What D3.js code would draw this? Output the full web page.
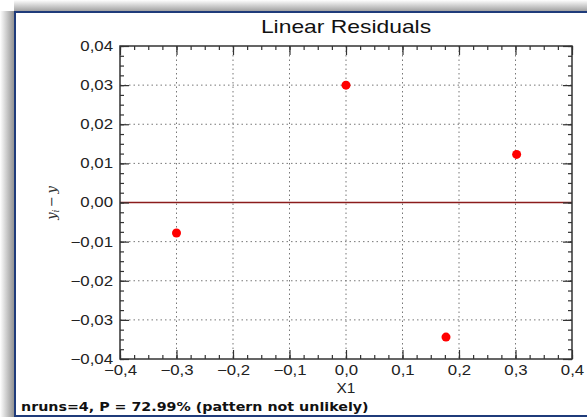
<html>
<head>
<meta charset="utf-8"/>
<script src="https://d3js.org/d3.v7.min.js"></script>
<style>
body { margin: 0; background: #fff; }
</style>
</head>
<body>
<div id="v"></div>
<script type="text/javascript">
(function() {

// data
var xValues = [-0.3, 0.0, 0.177, 0.302];
var residuals = [-0.0078, 0.030, -0.0344, 0.0123];
var xTicks = [-0.4, -0.3, -0.2, -0.1, 0.0, 0.1, 0.2, 0.3, 0.4];
var yTicks = [-0.04, -0.03, -0.02, -0.01, 0.00, 0.01, 0.02, 0.03, 0.04];
var title = "Linear Residuals";
var xLabel = "X1";
var footer = "nruns=4, P = 72.99% (pattern not unlikely)";

var width = 587, height = 417;
var left = 120, top = 46, right = 572, bottom = 359;
var stretch = 1.2; // the picture's text is a bit wider than it is tall

var locale = d3.formatLocale({decimal: ",", thousands: ".", grouping: [3], currency: ["", ""], minus: "\u2212"});
var fx = locale.format(".1f");
var fy = locale.format(".2f");

var x = d3.scaleLinear().domain([-0.4, 0.4]).range([left, right]);
var y = d3.scaleLinear().domain([-0.04, 0.04]).range([bottom, top]);

var svg = d3.select("#v").append("svg")
  .attr("width", width)
  .attr("height", height);

var defs = svg.append("defs");
var gl = defs.append("linearGradient").attr("id", "shL").attr("x1", "0").attr("x2", "1").attr("y1", "0").attr("y2", "0");
gl.append("stop").attr("offset", "0").attr("stop-color", "#fff");
gl.append("stop").attr("offset", "1").attr("stop-color", "#8a8a8a");
var gt = defs.append("linearGradient").attr("id", "shT").attr("x1", "0").attr("x2", "0").attr("y1", "0").attr("y2", "1");
gt.append("stop").attr("offset", "0").attr("stop-color", "#fff");
gt.append("stop").attr("offset", "1").attr("stop-color", "#9a9a9a");

// window shadow + frame
svg.append("rect").attr("x", 0).attr("y", 11).attr("width", 15).attr("height", height).attr("fill", "url(#shL)");
svg.append("rect").attr("x", 14).attr("y", 0).attr("width", width).attr("height", 12).attr("fill", "url(#shT)");
svg.append("rect")
  .attr("x", 15).attr("y", 12)
  .attr("width", 620).attr("height", 404)
  .attr("fill", "#fff")
  .attr("stroke", "#1f3b7a")
  .attr("stroke-width", 2);

// grid
var grid = svg.append("g").attr("stroke", "#777").attr("stroke-width", 1).attr("stroke-dasharray", "1.5,3");
grid.selectAll(".gx").data(xTicks.slice(1, -1)).enter().append("line")
  .attr("x1", function(d) { return x(d); }).attr("x2", function(d) { return x(d); })
  .attr("y1", top).attr("y2", bottom);
grid.selectAll(".gy").data(yTicks.slice(1, -1)).enter().append("line")
  .attr("y1", function(d) { return y(d); }).attr("y2", function(d) { return y(d); })
  .attr("x1", left).attr("x2", right);

// zero line
svg.append("line")
  .attr("x1", left).attr("x2", right)
  .attr("y1", y(0)).attr("y2", y(0))
  .attr("stroke", "#8b1c1c").attr("stroke-width", 1.5);

// axes, ticks inward on all four sides
var xMinor = d3.range(-0.4, 0.4001, 0.025);
var yMinor = d3.range(-0.04, 0.04001, 0.0025);

function axisGroup(axis, tx, ty) {
  var g = svg.append("g").attr("transform", "translate(" + tx + "," + ty + ")").call(axis);
  g.select(".domain").remove();
  g.selectAll("line").attr("stroke", "#333").attr("stroke-width", 1.2);
  g.selectAll("text").attr("font-family", "Liberation Sans, Arial, sans-serif").attr("font-size", 14).attr("fill", "#222");
  return g;
}

axisGroup(d3.axisBottom(x).tickValues(xMinor).tickSize(-4).tickFormat(""), 0, bottom);
axisGroup(d3.axisTop(x).tickValues(xMinor).tickSize(-4).tickFormat(""), 0, top);
axisGroup(d3.axisLeft(y).tickValues(yMinor).tickSize(-4).tickFormat(""), left, 0);
axisGroup(d3.axisRight(y).tickValues(yMinor).tickSize(-4).tickFormat(""), right, 0);

var xb = axisGroup(d3.axisBottom(x).tickValues(xTicks).tickSize(-9).tickPadding(3).tickFormat(fx), 0, bottom);
xb.selectAll("text").attr("dy", "0.95em").attr("transform", "scale(" + stretch + ",1)");
axisGroup(d3.axisTop(x).tickValues(xTicks).tickSize(-9).tickFormat(""), 0, top);
var yl = axisGroup(d3.axisLeft(y).tickValues(yTicks).tickSize(-9).tickPadding(0).tickFormat(fy), left, 0);
yl.selectAll("text").attr("x", -7 / stretch).attr("transform", "scale(" + stretch + ",1)");
axisGroup(d3.axisRight(y).tickValues(yTicks).tickSize(-9).tickFormat(""), right, 0);

svg.append("rect")
  .attr("x", left).attr("y", top)
  .attr("width", right - left).attr("height", bottom - top)
  .attr("fill", "none").attr("stroke", "#333").attr("stroke-width", 1.5);

// points
svg.selectAll(".pt").data(xValues).enter().append("circle")
  .attr("class", "pt")
  .attr("cx", function(d) { return x(d); })
  .attr("cy", function(d, i) { return y(residuals[i]); })
  .attr("r", 4.5)
  .attr("fill", "#ff0000");

// texts
svg.append("text")
  .attr("transform", "translate(" + (left + right) / 2 + ",33) scale(1.27,1)")
  .attr("text-anchor", "middle")
  .attr("font-family", "Liberation Sans, Arial, sans-serif")
  .attr("font-size", 18).attr("fill", "#111")
  .text(title);

svg.append("text")
  .attr("transform", "translate(" + (left + right) / 2 + ",393) scale(1.1,1)")
  .attr("text-anchor", "middle")
  .attr("font-family", "Liberation Sans, Arial, sans-serif")
  .attr("font-size", 14).attr("fill", "#222")
  .text(xLabel);

var yt = svg.append("text")
  .attr("transform", "translate(56,203) rotate(-90)")
  .attr("text-anchor", "middle")
  .attr("font-family", "DejaVu Serif, serif")
  .attr("font-style", "italic")
  .attr("font-size", 13).attr("fill", "#333");
yt.append("tspan").text("y");
yt.append("tspan").attr("font-size", 9).attr("dy", 3).text("i");
yt.append("tspan").attr("dy", -3).attr("font-style", "normal").text("\u2009\u2212\u2009");
yt.append("tspan").text("y");

svg.append("text")
  .attr("transform", "translate(21,411) scale(1.24,1)")
  .attr("font-family", "DejaVu Sans, Verdana, sans-serif")
  .attr("font-weight", "bold")
  .attr("font-size", 11.5).attr("fill", "#111")
  .text(footer);

})();
</script>
</body>
</html>
